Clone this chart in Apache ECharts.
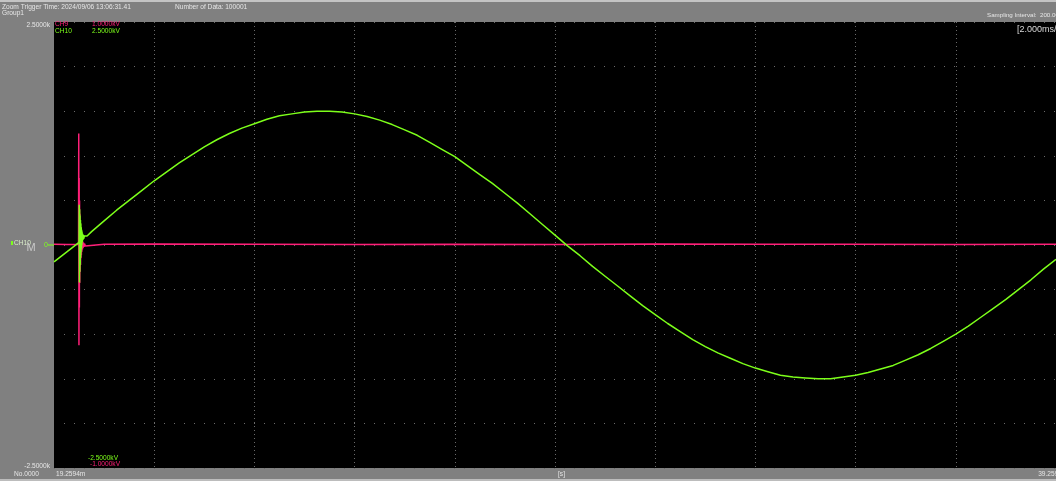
<!DOCTYPE html>
<html><head><meta charset="utf-8">
<script src="https://cdn.jsdelivr.net/npm/echarts@6/dist/echarts.min.js"></script>
<style>html,body{margin:0;padding:0;background:#808080;}#c{width:1056px;height:481px;}</style>
</head><body><div id="c"></div><script>
// time relative to display start (ms); display starts at 19.2594 ms
const startTime = 19.2594;
const spanMs = 20;
// CH10 (green), kV
const greenTime = [0, 0.5, 0.504, 0.508, 0.512, 0.516, 0.52, 0.524, 0.528, 0.532, 0.536, 0.54, 0.544, 0.548, 0.552, 0.556,
  0.56, 0.564, 0.568, 0.572, 0.576, 0.58, 0.588, 0.596, 0.604, 0.62, 0.66, 0.75,
  1.0, 1.25, 1.5, 1.75, 2.0, 2.25, 2.5, 2.75, 3.0, 3.25, 3.5, 3.75, 4.0, 4.25, 4.5, 4.75,
  5.0, 5.25, 5.5, 5.75, 6.0, 6.25, 6.5, 6.75, 7.0, 7.25, 7.5, 7.75, 8.0, 8.25, 8.5, 8.75,
  9.0, 9.25, 9.5, 9.75, 10.0, 10.25, 10.5, 10.75, 11.0, 11.25, 11.5, 11.75, 12.0, 12.25, 12.5, 12.75,
  13.0, 13.25, 13.5, 13.75, 14.0, 14.25, 14.5, 14.75, 15.0, 15.25, 15.5, 15.75, 16.0, 16.25, 16.5, 16.75,
  17.0, 17.25, 17.5, 17.75, 18.0, 18.25, 18.5, 18.75, 19.0, 19.25, 19.5, 19.75, 20.0];
const greenKV = [-0.19, 0.03, 0.45, -0.42, 0.40, -0.30, 0.33, -0.22, 0.28, -0.14, 0.24, -0.08, 0.20, -0.04, 0.17, 0.00,
  0.15, 0.03, 0.13, 0.05, 0.12, 0.06, 0.11, 0.07, 0.10, 0.085, 0.10, 0.15,
  0.27, 0.39, 0.50, 0.61, 0.72, 0.82, 0.92, 1.01, 1.10, 1.18, 1.25, 1.31, 1.36, 1.41, 1.45, 1.47,
  1.49, 1.50, 1.50, 1.49, 1.47, 1.44, 1.40, 1.35, 1.29, 1.23, 1.15, 1.07, 0.99, 0.89, 0.79, 0.69,
  0.58, 0.47, 0.35, 0.23, 0.11, -0.01, -0.12, -0.24, -0.35, -0.46, -0.57, -0.68, -0.78, -0.88, -0.97, -1.06,
  -1.14, -1.21, -1.27, -1.33, -1.38, -1.42, -1.46, -1.48, -1.49, -1.50, -1.50, -1.48, -1.46, -1.43, -1.39, -1.35,
  -1.29, -1.23, -1.16, -1.08, -1.00, -0.91, -0.81, -0.71, -0.61, -0.50, -0.39, -0.27, -0.16];
// CH9 (pink), kV
const pinkTime = [0, 0.25, 0.49, 0.494, 0.498, 0.502, 0.506, 0.51, 0.514, 0.518, 0.522, 0.526, 0.53, 0.534, 0.538, 0.542, 0.546,
  0.55, 0.556, 0.562, 0.568, 0.576, 0.584, 0.592, 0.6, 0.612, 0.624, 0.64, 0.66,
  1.0, 2.0, 4.0, 6.0, 8.0, 10.0, 12.0, 14.0, 16.0, 18.0, 20.0];
const pinkKV = [0.003, 0.002, 0.003, 0.50, -0.45, 0.30, -0.28, 0.20, -0.17, 0.14, -0.12, 0.10, -0.09, 0.07, -0.06, 0.05, -0.045,
  0.035, -0.03, 0.025, -0.02, 0.015, -0.012, 0.01, -0.008, 0.006, -0.004, 0.004, 0.002,
  0.003, 0.004, 0.003, 0.002, 0.003, 0.002, 0.004, 0.003, 0.003, 0.002, 0.003];
const ch10Range = [-2.5, 2.5];
const ch9Range = [-1, 1];
const yTickLabels = ['2.5000k', '0', '-2.5000k'];
const xTickLabels = ['19.2594m', '39.2594m'];

const GREEN = '#7dff1a', PINK = '#ff1f78';
const F = 'Liberation Sans, Arial, sans-serif';
const t = (text, x, y, fill, size, align, extra) => Object.assign({
  type: 'text', silent: true, z: 100,
  style: { text, x, y, fill, font: (size || 6.6) + 'px ' + F, textAlign: align || 'left', textVerticalAlign: 'middle' }
}, extra || {});

const chart = echarts.init(document.getElementById('c'), null, { renderer: 'canvas' });
chart.setOption({
  animation: false,
  backgroundColor: '#808080',
  grid: { left: 54, top: 22, width: 1010, height: 446, show: true, backgroundColor: '#000', borderWidth: 0 },
  xAxis: {
    type: 'value', min: 0, max: spanMs, interval: 2,
    axisLine: { show: false }, axisTick: { show: false }, axisLabel: { show: false },
    splitLine: { show: true, lineStyle: { color: '#6a6a6a', width: 1, type: [1, 3] } }
  },
  yAxis: [
    { type: 'value', min: ch10Range[0], max: ch10Range[1], interval: 0.5,
      axisLine: { show: false }, axisTick: { show: false }, axisLabel: { show: false },
      splitLine: { show: true, lineStyle: { color: '#6a6a6a', width: 1, type: [1, 9] } } },
    { type: 'value', min: ch9Range[0], max: ch9Range[1], show: false, splitLine: { show: false } }
  ],
  series: [
    { type: 'line', name: 'CH9', yAxisIndex: 1, showSymbol: false, smooth: false, sampling: null, z: 5,
      data: pinkTime.map((x, i) => [x, pinkKV[i]]), lineStyle: { color: PINK, width: 1.5 } },
    { type: 'line', name: 'CH10', yAxisIndex: 0, showSymbol: false, smooth: false, sampling: null, z: 6,
      data: greenTime.map((x, i) => [x, greenKV[i]]), lineStyle: { color: GREEN, width: 1.5 } }
  ],
  graphic: [
    { type: 'rect', silent: true, shape: { x: 0, y: 0, width: 1056, height: 2 }, style: { fill: '#c4c4c4' } },
    { type: 'rect', silent: true, shape: { x: 0, y: 479, width: 1056, height: 2 }, style: { fill: '#bcbcbc' } },
    { type: 'rect', silent: true, z: 1, shape: { x: 54, y: 22, width: 1.5, height: 446 }, style: { fill: '#000' } },
    t('Zoom Trigger Time: 2024/09/06 13:06:31.41', 2, 7, '#e6e6e6'),
    t('Group1', 2, 13, '#e6e6e6'),
    t('Number of Data: 100001', 175, 7, '#e6e6e6'),
    t('Sampling Interval:  200.00ns', 987, 15, '#e6e6e6', 6.2),
    t('[2.000ms/div]', 1017, 30, '#d8d8d8', 9),
    t(yTickLabels[0], 50, 25, '#e6e6e6', 6.6, 'right'),
    t(yTickLabels[2], 50, 466, '#e6e6e6', 6.6, 'right'),
    t(yTickLabels[1], 44, 245, GREEN, 7),
    { type: 'line', silent: true, shape: { x1: 48, y1: 245, x2: 54, y2: 245 }, style: { stroke: GREEN, lineWidth: 1 } },
    { type: 'rect', silent: true, shape: { x: 11, y: 241, width: 2, height: 4 }, style: { fill: GREEN } },
    t('CH10', 14, 243, '#d8ecc8'),
    t('M', 31, 248, '#c8c8c8', 11, 'center'),
    t('CH9', 55, 24, PINK), t('1.0000kV', 92, 24, PINK),
    t('CH10', 55, 31, GREEN), t('2.5000kV', 92, 31, GREEN),
    t('-2.5000kV', 88, 458, GREEN), t('-1.0000kV', 90, 464, PINK),
    t('No.0000', 14, 474, '#e6e6e6'),
    t(xTickLabels[0], 56, 474, '#e6e6e6'),
    t('[s]', 558, 474, '#e6e6e6'),
    t(xTickLabels[1].replace('m', ''), 1062, 474, '#e6e6e6', 6.6, 'right')
  ]
});
</script></body></html>
